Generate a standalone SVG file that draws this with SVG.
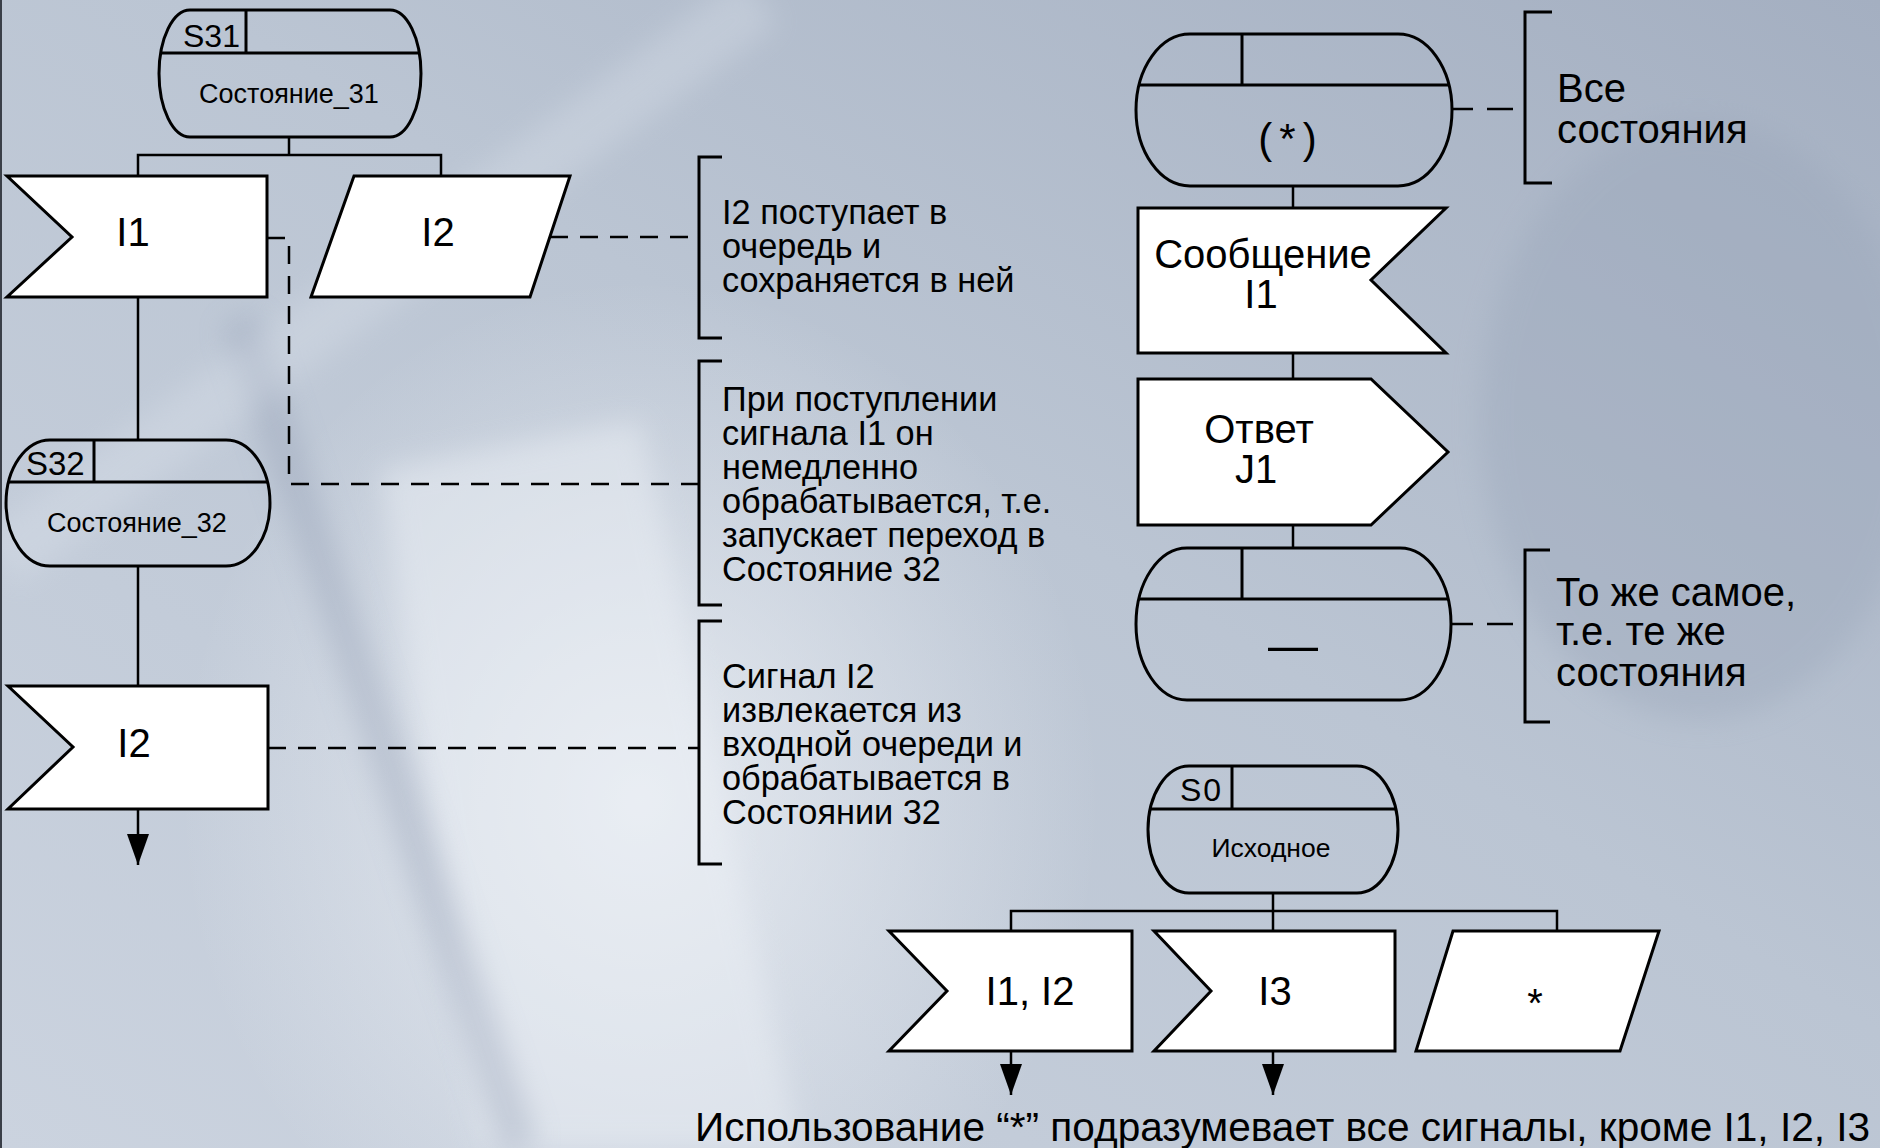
<svg xmlns="http://www.w3.org/2000/svg" width="1880" height="1148" viewBox="0 0 1880 1148">
  <defs>
    <linearGradient id="bgGrad" x1="1" y1="0" x2="0" y2="1">
      <stop offset="0" stop-color="#a4afc1"/>
      <stop offset="0.45" stop-color="#bbc5d3"/>
      <stop offset="1" stop-color="#cbd3df"/>
    </linearGradient>
    <radialGradient id="glow" cx="0.5" cy="0.5" r="0.5">
      <stop offset="0" stop-color="#f2f5f9" stop-opacity="0.75"/>
      <stop offset="1" stop-color="#f2f5f9" stop-opacity="0"/>
    </radialGradient>
    <filter id="soft" x="-20%" y="-20%" width="140%" height="140%">
      <feGaussianBlur stdDeviation="14"/>
    </filter>
    <marker id="arrow" markerUnits="userSpaceOnUse" markerWidth="34" markerHeight="24" refX="31" refY="11" orient="auto">
      <path d="M0,0 L31,11 L0,22 Z" fill="#000"/>
    </marker>
    <style>
      .state { fill: none; stroke: #000; stroke-width: 3; }
      .box { fill: #fff; stroke: #000; stroke-width: 3; stroke-linejoin: miter; }
      .conn { fill: none; stroke: #000; stroke-width: 2.5; }
      .dash { fill: none; stroke: #000; stroke-width: 2.5; stroke-dasharray: 18 12; }
      .brk { fill: none; stroke: #000; stroke-width: 3; }
      text { font-family: "Liberation Sans", Arial, sans-serif; fill: #000; }
      .lbl { font-size: 40px; text-anchor: middle; }
      .sid { font-size: 32px; }
      .sname { font-size: 27px; text-anchor: middle; }
      .note { font-size: 34.3px; }
      .big { font-size: 40px; }
    </style>
  </defs>

  <!-- soft textured backdrop -->
  <g id="backdrop">
    <rect x="0" y="0" width="1880" height="1148" fill="url(#bgGrad)"/>
    <ellipse cx="640" cy="800" rx="460" ry="520" fill="url(#glow)"/>
    <polygon points="380,470 640,420 800,1148 480,1148" fill="#eef2f7" opacity="0.45" filter="url(#soft)"/>
    <line x1="240" y1="320" x2="520" y2="1148" stroke="#8e9ab0" stroke-width="36" opacity="0.35" filter="url(#soft)"/>
    <line x1="0" y1="560" x2="760" y2="0" stroke="#dfe5ee" stroke-width="60" opacity="0.3" filter="url(#soft)"/>
    <ellipse cx="1700" cy="420" rx="220" ry="300" fill="#98a4b8" opacity="0.35" filter="url(#soft)"/>
    <line x1="1" y1="0" x2="1" y2="1148" stroke="#3a3f48" stroke-width="2"/>
  </g>

  <!-- connectors and annotation leaders -->
  <g id="connectors">
    <polyline class="conn" points="289,137 289,155"/>
    <polyline class="conn" points="138,176 138,155 441,155 441,176"/>
    <line class="conn" x1="138" y1="297" x2="138" y2="440"/>
    <line class="conn" x1="138" y1="566" x2="138" y2="686"/>
    <line class="conn" x1="138" y1="809" x2="138" y2="865" marker-end="url(#arrow)"/>

    <line class="conn" x1="1293" y1="186" x2="1293" y2="208"/>
    <line class="conn" x1="1293" y1="353" x2="1293" y2="379"/>
    <line class="conn" x1="1293" y1="525" x2="1293" y2="548"/>

    <line class="conn" x1="1273" y1="893" x2="1273" y2="911"/>
    <polyline class="conn" points="1011,931 1011,911 1557,911 1557,931"/>
    <line class="conn" x1="1273" y1="911" x2="1273" y2="931"/>
    <line class="conn" x1="1011" y1="1051" x2="1011" y2="1095" marker-end="url(#arrow)"/>
    <line class="conn" x1="1273" y1="1051" x2="1273" y2="1095" marker-end="url(#arrow)"/>

    <polyline class="dash" points="267,238 289,238 289,484 699,484"/>
    <line class="dash" x1="550" y1="237" x2="699" y2="237"/>
    <line class="dash" x1="268" y1="748" x2="699" y2="748"/>
    <line class="dash" x1="1451" y1="109" x2="1513" y2="109" style="stroke-dasharray: 22 14 26 100"/>
    <line class="dash" x1="1451" y1="624" x2="1513" y2="624" style="stroke-dasharray: 22 14 26 100"/>
  </g>

  <!-- state S31 -->
  <g id="state-s31">
    <path class="state" d="M190,10 H390 A31,63.5 0 0 1 390,137 H190 A31,63.5 0 0 1 190,10 Z"/>
    <line class="state" x1="160.7" y1="53" x2="419.3" y2="53"/>
    <line class="state" x1="246" y1="10" x2="246" y2="53"/>
    <text class="sid" x="183" y="47">S31</text>
    <text class="sname" x="289" y="103">Состояние_31</text>
  </g>

  <g id="input-i1">
    <polygon class="box" points="7,176 267,176 267,297 7,297 72,237"/>
    <text class="lbl" x="133" y="246">I1</text>
  </g>

  <g id="save-i2">
    <polygon class="box" points="354,176 570,176 530,297 311,297"/>
    <text class="lbl" x="438" y="246">I2</text>
  </g>

  <!-- state S32 -->
  <g id="state-s32">
    <path class="state" d="M50,440 H226 A44,63 0 0 1 226,566 H50 A44,63 0 0 1 50,440 Z"/>
    <line class="state" x1="8.5" y1="482" x2="267.5" y2="482"/>
    <line class="state" x1="94" y1="440" x2="94" y2="482"/>
    <text class="sid" x="26" y="475" style="font-size:33px">S32</text>
    <text class="sname" x="137" y="532">Состояние_32</text>
  </g>

  <g id="input-i2">
    <polygon class="box" points="8,686 268,686 268,809 8,809 73,747"/>
    <text class="lbl" x="134" y="757">I2</text>
  </g>

  <!-- bracketed notes -->
  <g id="note-queue">
    <polyline class="brk" points="722,157 699,157 699,338 722,338"/>
    <text class="note" x="722" y="224">I2 поступает в<tspan x="722" dy="34">очередь и</tspan><tspan x="722" dy="34">сохраняется в ней</tspan></text>
  </g>

  <g id="note-immediate">
    <polyline class="brk" points="722,361 699,361 699,605 722,605"/>
    <text class="note" x="722" y="411">При поступлении<tspan x="722" dy="34">сигнала I1 он</tspan><tspan x="722" dy="34">немедленно</tspan><tspan x="722" dy="34">обрабатывается, т.е.</tspan><tspan x="722" dy="34">запускает переход в</tspan><tspan x="722" dy="34">Состояние 32</tspan></text>
  </g>

  <g id="note-extract">
    <polyline class="brk" points="722,621 699,621 699,864 722,864"/>
    <text class="note" x="722" y="688">Сигнал I2<tspan x="722" dy="34">извлекается из</tspan><tspan x="722" dy="34">входной очереди и</tspan><tspan x="722" dy="34">обрабатывается в</tspan><tspan x="722" dy="34">Состоянии 32</tspan></text>
  </g>

  <!-- any-state block -->
  <g id="state-any">
    <path class="state" d="M1190,34 H1398 A54,76 0 0 1 1398,186 H1190 A54,76 0 0 1 1190,34 Z"/>
    <line class="state" x1="1139" y1="85" x2="1449" y2="85"/>
    <line class="state" x1="1242" y1="34" x2="1242" y2="85"/>
    <text class="lbl" x="1291" y="153" style="font-size:42px; letter-spacing:7px">(*)</text>
  </g>

  <g id="note-all-states">
    <polyline class="brk" points="1552,12 1525,12 1525,183 1552,183"/>
    <text class="big" x="1557" y="102">Все<tspan x="1557" dy="41">состояния</tspan></text>
  </g>

  <g id="input-msg-i1">
    <polygon class="box" points="1138,208 1446,208 1371,280 1446,353 1138,353"/>
    <text class="lbl" x="1263" y="268">Сообщение<tspan x="1261" dy="40">I1</tspan></text>
  </g>

  <g id="output-j1">
    <polygon class="box" points="1138,379 1371,379 1448,452 1371,525 1138,525"/>
    <text class="lbl" x="1259" y="443">Ответ<tspan x="1256" dy="40">J1</tspan></text>
  </g>

  <g id="state-same">
    <path class="state" d="M1187,548 H1400 A51,76 0 0 1 1400,700 H1187 A51,76 0 0 1 1187,548 Z"/>
    <line class="state" x1="1139" y1="599" x2="1448" y2="599"/>
    <line class="state" x1="1242" y1="548" x2="1242" y2="599"/>
    <text class="lbl" x="1293" y="662" style="font-size:50px">—</text>
  </g>

  <g id="note-same-states">
    <polyline class="brk" points="1550,550 1525,550 1525,722 1550,722"/>
    <text class="big" x="1556" y="606">То же самое,<tspan x="1556" dy="39">т.е. те же</tspan><tspan x="1556" dy="41">состояния</tspan></text>
  </g>

  <!-- initial state S0 and its inputs -->
  <g id="state-s0">
    <path class="state" d="M1189,766 H1357 A41,63.5 0 0 1 1357,893 H1189 A41,63.5 0 0 1 1189,766 Z"/>
    <line class="state" x1="1150.2" y1="809" x2="1395.8" y2="809"/>
    <line class="state" x1="1232" y1="766" x2="1232" y2="809"/>
    <text class="sid" x="1180" y="801" style="letter-spacing:2px">S0</text>
    <text class="sname" x="1271" y="857" style="font-size:26.5px">Исходное</text>
  </g>

  <g id="input-i1-i2">
    <polygon class="box" points="889,931 1132,931 1132,1051 889,1051 947,991"/>
    <text class="lbl" x="1030" y="1005">I1, I2</text>
  </g>

  <g id="input-i3">
    <polygon class="box" points="1154,931 1395,931 1395,1051 1154,1051 1211,991"/>
    <text class="lbl" x="1275" y="1005">I3</text>
  </g>

  <g id="save-any">
    <polygon class="box" points="1453,931 1659,931 1620,1051 1416,1051"/>
    <text class="lbl" x="1535" y="1017">*</text>
  </g>

  <g id="caption">
    <text class="big" x="695" y="1141" style="font-size:40.6px">Использование “*” подразумевает все сигналы, кроме I1, I2, I3</text>
  </g>
</svg>
